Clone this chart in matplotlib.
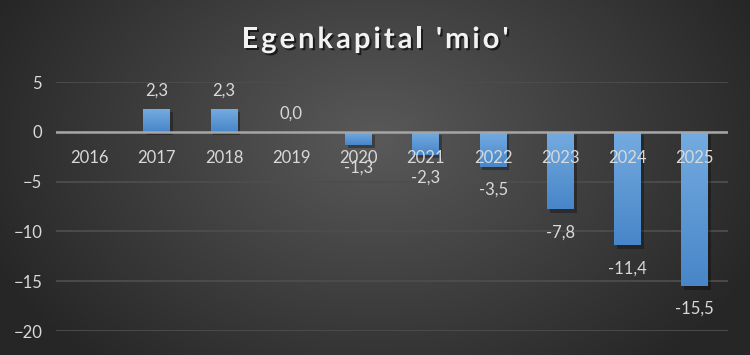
import matplotlib.pyplot as plt
import matplotlib.patheffects as pe
import numpy as np

years = ['2016', '2017', '2018', '2019', '2020', '2021', '2022', '2023', '2024', '2025']
values = [np.nan, 2.3, 2.3, 0.0, -1.3, -2.3, -3.5, -7.8, -11.4, -15.5]
labels = ['', '2,3', '2,3', '0,0', '-1,3', '-2,3', '-3,5', '-7,8', '-11,4', '-15,5']
title = "Egenkapital 'mio'"

plt.rcParams['font.family'] = ['Lato', 'DejaVu Sans']
txt = '#d9d9d9'

fig = plt.figure(figsize=(7.5, 3.55), dpi=100)

# radial dark background
bg = fig.add_axes([0, 0, 1, 1], zorder=0)
yy, xx = np.mgrid[0:355, 0:750]
r = np.sqrt(((xx - 375) / 420.0) ** 2 + ((yy - 140) / 300.0) ** 2)
r = np.clip(r, 0, 1)
shade = 0.35 - 0.20 * r
bg.imshow(np.dstack([shade, shade, shade]), aspect='auto', extent=[0, 1, 0, 1])
bg.axis('off')

ax = fig.add_axes([0.0747, 0.0676, 0.8966, 0.7014], zorder=1)
ax.patch.set_alpha(0)

x = np.arange(len(years))
bars = ax.bar(x, values, width=0.4, color='#5597d6', zorder=3)
top_c = np.array([0x74, 0xab, 0xe0]) / 255
bot_c = np.array([0x48, 0x86, 0xc9]) / 255
grad = np.linspace(0, 1, 64)[:, None, None]
grad_img = top_c * (1 - grad) + bot_c * grad
for b in bars:
    b.set_path_effects([pe.SimplePatchShadow(offset=(2, -2.5), shadow_rgbFace='black', alpha=0.3), pe.Normal()])
    h = b.get_height()
    if np.isnan(h) or h == 0:
        continue
    x0 = b.get_x()
    y_top = max(0, h)
    y_bot = min(0, h)
    im = ax.imshow(np.repeat(grad_img, 2, axis=1), extent=[x0, x0 + b.get_width(), y_bot, y_top],
                   aspect='auto', zorder=3.5, interpolation='bilinear')
    im.set_clip_path(b)

for i, (v, lab) in enumerate(zip(values, labels)):
    if not lab:
        continue
    off = 13 if v >= 0 else -16.5
    ax.annotate(lab, (i, v), xytext=(0, off), textcoords='offset points',
                ha='center', va='center', color=txt, fontsize=12, zorder=5)

ax.set_xlim(-0.5, len(years) - 0.5)
ax.set_ylim(-20, 5)
ax.set_yticks([5, 0, -5, -10, -15, -20])
ax.grid(axis='y', color='#4d4d4d', linewidth=1.3, zorder=1)
ax.axhline(0, color='#a6a6a6', linewidth=1.8, zorder=4)

for s in ax.spines.values():
    s.set_visible(False)
ax.set_xticks([])
for i, yr in enumerate(years):
    ax.annotate(yr, (i, 0), xytext=(0, -19), textcoords='offset points',
                ha='center', va='center', color=txt, fontsize=12, zorder=6)

ax.tick_params(axis='y', length=0, pad=10, labelsize=12, labelcolor=txt)

# title with letter spacing
renderer = fig.canvas.get_renderer()
spacing = 3.0
shadow = [pe.withSimplePatchShadow(offset=(1.5, -1.5), shadow_rgbFace='black', alpha=0.6)]
parts = []
for ch in title:
    t = fig.text(0, 0.887, ch, ha='left', va='center', color='#f2f2f2',
                 fontsize=21, fontweight='bold', path_effects=shadow)
    w = t.get_window_extent(renderer).width if ch != ' ' else 7
    parts.append((t, w))
total = sum(w for _, w in parts) + spacing * (len(parts) - 1)
cur = 375 - total / 2
for t, w in parts:
    t.set_x(cur / 750)
    cur += w + spacing

fig.savefig('out.png', dpi=100)
